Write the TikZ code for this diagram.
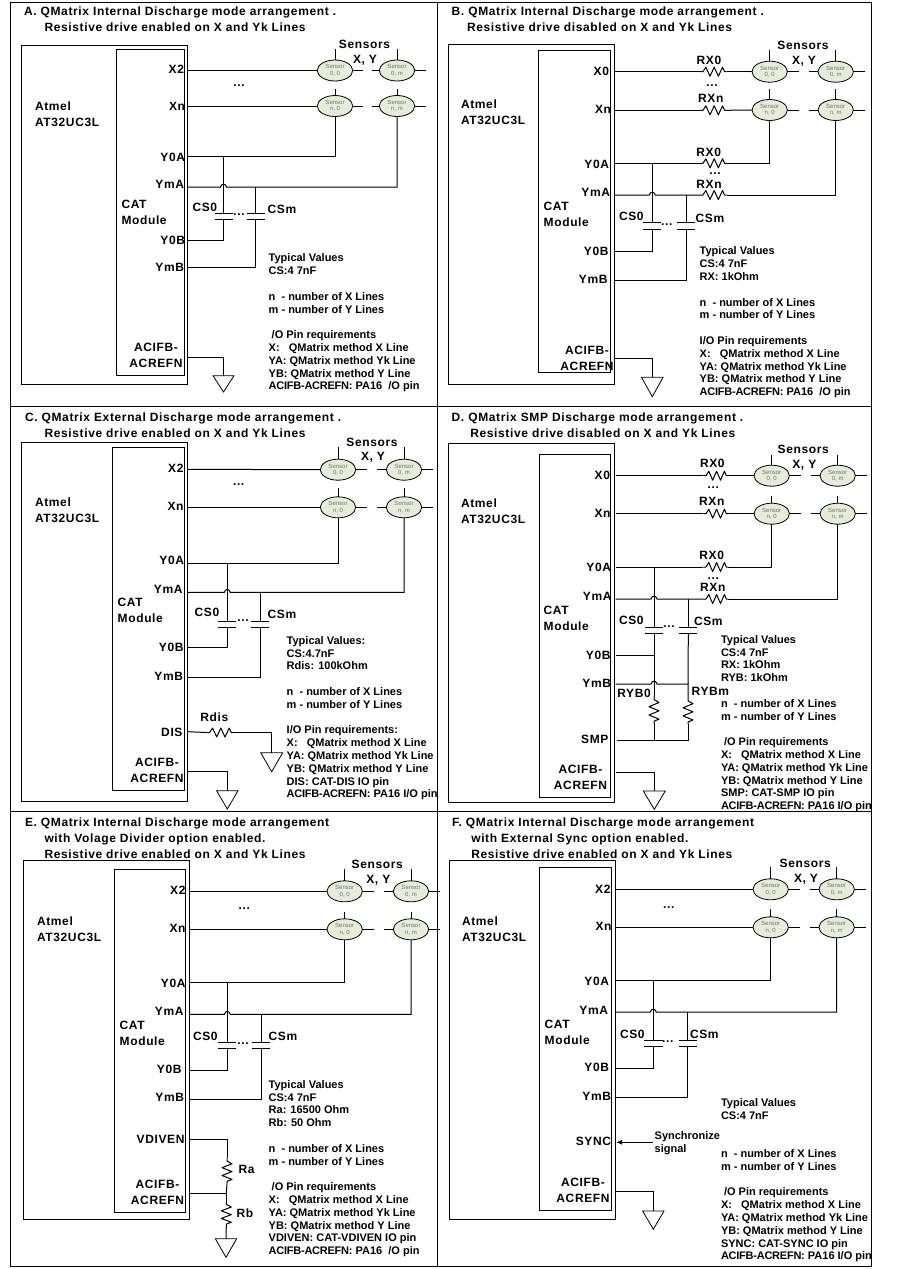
\documentclass[tikz,border=0pt]{standalone}
\usepackage{fontspec}
\setmainfont{Liberation Sans}
\newfontfamily\lblfont[LetterSpace=5.3]{Liberation Sans}
\usetikzlibrary{shapes.geometric,arrows.meta}
\definecolor{sensorfill}{HTML}{E6ECDA}
\newcommand\acr{{\addfontfeature{LetterSpace=-2.2}ACIFB-ACREFN:}}
\tikzset{
  wire/.style={line width=1pt,line join=miter},
  boxshape/.style={draw,line width=1pt,inner sep=0,outer sep=0,rectangle},
  lbl/.style={font=\lblfont\fontsize{12}{16}\selectfont\bfseries,inner sep=0,outer sep=0,align=left},
  lblc/.style={lbl,align=center},
  note/.style={font=\fontsize{11}{12.8}\selectfont\bfseries,inner sep=0,outer sep=0,align=left,anchor=north west},
  ttl/.style={lbl,anchor=north west},
  small/.style={font=\fontsize{11}{13}\selectfont\bfseries,inner sep=0,outer sep=0,align=left},
  sensorshape/.style={draw,ellipse,fill=sensorfill,line width=.8pt,minimum width=35.4pt,minimum height=21pt,inner sep=0,outer sep=0,
     align=center,font=\fontsize{6}{6.5}\selectfont,text=black!55},
}
% rectangle node from two corners
\newcommand\chipbox[5]{%
  \pgfmathsetmacro\bw{#4-#2}\pgfmathsetmacro\bh{#5-#3}%
  \pgfmathsetmacro\bx{(#2+#4)/2}\pgfmathsetmacro\by{(#3+#5)/2}%
  \node[boxshape,minimum width=\bw pt,minimum height=\bh pt] (#1) at (\bx,\by) {};}
% pin: prefix, key, text, label x (right edge), label y, wire x, wire y
\newcommand\pin[7]{%
  \node[lbl,anchor=east] (#1-#2-l) at (#4,#5) {#3};
  \coordinate (#1-#2) at (#6,#7);}
% sensor row: prefix, row, xL, xR, y, ytop, stub1, stub2, stubend
\newcommand\sensorrow[9]{%
  \node[sensorshape] (#1-s-#2-L) at (#3,#5) {Sensor\\#2, 0};
  \node[sensorshape] (#1-s-#2-R) at (#4,#5) {Sensor\\#2, m};
  \coordinate (#1-s-#2-Lt) at (#3,#6);
  \coordinate (#1-s-#2-Rt) at (#4,#6);
  \coordinate (#1-s-#2-st1) at (#7,#5);
  \coordinate (#1-s-#2-st2) at (#8,#5);
  \coordinate (#1-s-#2-st3) at (#9,#5);
  \draw[wire] (#1-s-#2-L.north) -- (#1-s-#2-Lt);
  \draw[wire] (#1-s-#2-R.north) -- (#1-s-#2-Rt);
  \draw[wire] (#1-s-#2-L.east) -- (#1-s-#2-st1);
  \draw[wire] (#1-s-#2-st2) -- (#1-s-#2-R.west);
  \draw[wire] (#1-s-#2-R.east) -- (#1-s-#2-st3);}
% capacitor: name, x, y1, y2, half width
\newcommand\capac[5]{%
  \coordinate (#1-t) at (#2,#3);
  \coordinate (#1-b) at (#2,#4);
  \draw[wire] ({#2-#5},#3) -- ({#2+#5},#3);
  \draw[wire] ({#2-#5},#4) -- ({#2+#5},#4);}
% ground: name, xc, ytop, half width, yapex
\newcommand\gnd[5]{%
  \coordinate (#1) at (#2,#3);
  \draw[wire,line width=.8pt,line join=miter] ({#2-#4},#3) -- ({#2+#4},#3) -- (#2,#5) -- cycle;}
% horizontal resistor: name, x1, x2, y
\newcommand\resh[4]{%
  \coordinate (#1-a) at (#2,#4);
  \coordinate (#1-b) at (#3,#4);
  \pgfmathsetmacro\ru{(#3-#2)/6.4}%
  \draw[wire,line join=round] (#2,#4)
    -- ({#2+0.7*\ru},{#4}) -- ({#2+1.4*\ru},{#4-4.5}) -- ({#2+2.4*\ru},{#4+4.5})
    -- ({#2+3.4*\ru},{#4-4.5}) -- ({#2+4.4*\ru},{#4+4.5}) -- ({#2+5.4*\ru},{#4-4.5})
    -- ({#2+5.9*\ru},{#4}) -- (#3,#4);}
% vertical resistor: name, x, y1, y2
\newcommand\resv[4]{%
  \coordinate (#1-a) at (#2,#3);
  \coordinate (#1-b) at (#2,#4);
  \pgfmathsetmacro\ru{(#4-#3)/6.4}%
  \draw[wire,line join=round] (#2,#3)
    -- (#2,{#3+0.7*\ru}) -- ({#2+5},{#3+1.4*\ru}) -- ({#2-5},{#3+2.4*\ru})
    -- ({#2+5},{#3+3.4*\ru}) -- ({#2-5},{#3+4.4*\ru}) -- ({#2+5},{#3+5.4*\ru})
    -- (#2,{#3+5.9*\ru}) -- (#2,#4);}
% wire hop over a vertical at x, on line y (path fragment)
\newcommand\hop[2]{-- ({#1-3},#2) .. controls ({#1-2},{#2-3.8}) and ({#1+2},{#2-3.8}) .. ({#1+3},#2)}
\newcommand\dotsl[3]{\node[lbl] (#1) at (#2,#3) {...};}
\newcommand\sensorhead[5]{%
  \node[lbl] (#1-sh) at (#2,#3) {Sensors};
  \node[lbl] (#1-xy) at (#4,#5) {X, Y};}
\newcommand\twolab[7]{%
  \node[lbl,anchor=north west] (#1-chip-l) at (#2,#3) {Atmel\\AT32UC3L};
  \node[lbl,anchor=north west] (#1-cat-l) at (#4,#5) {CAT\\Module};}
\begin{document}
\begin{tikzpicture}[x=1pt,y=-1pt]
\useasboundingbox (0,0) rectangle (920,1269);
\fill[white] (0,0) rectangle (920,1269);
% panel frame
\coordinate (f-tl) at (10.5,2);
\coordinate (f-br) at (871.5,1266.5);
\draw[wire] (f-tl) rectangle (f-br);
\draw[wire] (437,2) -- (437,1266.5);
\draw[wire] (10.5,406.5) -- (871.5,406.5);
\draw[wire] (10.5,811) -- (871.5,811);

%% ---------------- A
\node[ttl] (a-t) at (24,6.5) {A. QMatrix Internal Discharge mode arrangement .\\\hspace*{20.5pt}Resistive drive enabled on X and Yk Lines};
\chipbox{a-chip}{21.5}{45.5}{187.5}{384.5}
\chipbox{a-cat}{116.5}{49.5}{184.5}{375}
\twolab{a}{35}{101.5}{121.5}{200.5}{}{}
\pin{a}{X2}{X2}{184}{69}{188}{70.5}
\pin{a}{Xn}{Xn}{185}{106}{188}{106}
\pin{a}{Y0A}{Y0A}{185}{157}{188}{156}
\pin{a}{YmA}{YmA}{184}{184}{188}{187}
\pin{a}{Y0B}{Y0B}{185}{240}{188}{240}
\pin{a}{YmB}{YmB}{184}{267}{188}{267}
\node[lblc] (a-acif-l) at (156,355.5) {ACIFB-\\ACREFN};
\coordinate (a-acif) at (188,357);
\sensorrow{a}{0}{335}{397}{70.5}{49}{362.7}{372}{426}
\sensorrow{a}{n}{335}{397}{106}{89}{362.7}{372}{426}
\sensorhead{a}{364.5}{44.5}{365}{60}
\dotsl{a-d1}{239}{86}
\draw[wire] (a-X2) -- (a-s-0-L.west);
\draw[wire] (a-Xn) -- (a-s-n-L.west);
\draw[wire] (a-Y0A) -| (a-s-n-L.south);
\draw[wire] (a-YmA) \hop{223.5}{187} -| (a-s-n-R.south);
\capac{a-c0}{223.5}{213}{219.5}{9}
\capac{a-cm}{255.5}{213}{219.5}{9}
\draw[wire] (a-c0-t |- a-Y0A) -- (a-c0-t);
\draw[wire] (a-cm-t |- a-YmA) -- (a-cm-t);
\draw[wire] (a-c0-b) |- (a-Y0B);
\draw[wire] (a-cm-b) |- (a-YmB);
\node[lbl,anchor=west] (a-cs0) at (192.5,207) {CS0};
\node[lbl,anchor=west] (a-csm) at (267.7,209) {CSm};
\dotsl{a-d2}{239}{214.5}
\gnd{a-g}{223.5}{375.7}{10.5}{392}
\draw[wire] (a-acif) -| (a-g);
\node[note] (a-n) at (268.7,254) {Typical Values\\CS:4 7nF\\ ~ \\n\ \ - number of X Lines\\m - number of Y Lines\\ ~ \\\hspace*{3pt}/O Pin requirements\\X:\ \ \ QMatrix method X Line\\YA: QMatrix method Yk Line\\YB: QMatrix method Y Line\\\acr{} PA16\ \ /O pin};

%% ---------------- B
\node[ttl] (b-t) at (451.7,6.5) {B. QMatrix Internal Discharge mode arrangement .\\\hspace*{15.3pt}Resistive drive disabled on X and Yk Lines};
\chipbox{b-chip}{448.3}{44}{614.3}{384.3}
\chipbox{b-cat}{538.7}{50.3}{610.3}{372.3}
\twolab{b}{461}{99.5}{543.7}{202.5}{}{}
\pin{b}{X0}{X0}{609}{71}{615}{71.7}
\pin{b}{Xn}{Xn}{611}{109}{615}{110.3}
\pin{b}{Y0A}{Y0A}{609}{164}{615}{163.3}
\pin{b}{YmA}{YmA}{610}{192}{615}{195}
\pin{b}{Y0B}{Y0B}{608.5}{251}{615}{251.7}
\pin{b}{YmB}{YmB}{607.5}{279}{615}{280.3}
\node[lblc] (b-acif-l) at (587,358) {ACIFB-\\ACREFN};
\coordinate (b-acif) at (615,358.3);
\sensorrow{b}{0}{769.7}{835.7}{71.7}{50}{798.7}{809}{865}
\sensorrow{b}{n}{769.7}{835.7}{110}{89.3}{798.7}{809}{865}
\sensorhead{b}{803}{45.5}{804}{61}
\resh{b-r1}{700}{726.7}{71.7}
\resh{b-r2}{700}{726.7}{110.3}
\resh{b-r3}{700}{726.7}{163.3}
\resh{b-r4}{700}{726.7}{195}
\node[lbl] (b-r1-l) at (709,60) {RX0};
\dotsl{b-d1}{712}{86}
\node[lbl] (b-r2-l) at (710.7,98) {RXn};
\node[lbl] (b-r3-l) at (708.7,152) {RX0};
\dotsl{b-d2}{715}{174}
\node[lbl] (b-r4-l) at (709,184) {RXn};
\draw[wire] (b-X0) -- (b-r1-a);
\draw[wire] (b-r1-b) -- (b-s-0-L.west);
\draw[wire] (b-Xn) -- (b-r2-a);
\draw[wire] (b-r2-b) -- (b-s-n-L.west);
\draw[wire] (b-Y0A) -- (b-r3-a);
\draw[wire] (b-r3-b) -| (b-s-n-L.south);
\draw[wire] (b-YmA) \hop{652.3}{195} -- (b-r4-a);
\draw[wire] (b-r4-b) -| (b-s-n-R.south);
\capac{b-c0}{652.3}{222}{229}{9}
\capac{b-cm}{686.3}{222}{229}{9}
\draw[wire] (b-c0-t |- b-Y0A) -- (b-c0-t);
\draw[wire] (b-cm-t |- b-YmA) -- (b-cm-t);
\draw[wire] (b-c0-b) |- (b-Y0B);
\draw[wire] (b-cm-b) |- (b-YmB);
\node[lbl,anchor=west] (b-cs0) at (619,216) {CS0};
\node[lbl,anchor=west] (b-csm) at (695.7,218) {CSm};
\dotsl{b-d3}{666.7}{224.5}
\gnd{b-g}{652.3}{377.3}{10.8}{396.7}
\draw[wire] (b-acif) -| (b-g);
\node[note] (b-n) at (699.7,247) {Typical Values\\CS:4 7nF\\RX: 1kOhm\\ ~ \\n\ \ - number of X Lines\\m - number of Y Lines\\ ~ \\I/O Pin requirements\\X:\ \ \ QMatrix method X Line\\YA: QMatrix method Yk Line\\YB: QMatrix method Y Line\\\acr{} PA16\ \ /O pin};

%% ---------------- C
\node[ttl] (c-t) at (25,412.8) {C. QMatrix External Discharge mode arrangement .\\\hspace*{19.5pt}Resistive drive enabled on X and Yk Lines};
\chipbox{c-chip}{21.5}{442.3}{187.5}{801}
\chipbox{c-cat}{112.7}{447.3}{184.3}{790}
\twolab{c}{35}{497.5}{117.7}{598.5}{}{}
\pin{c}{X2}{X2}{183.5}{468.3}{188}{469.3}
\pin{c}{Xn}{Xn}{183.5}{506}{188}{507.3}
\pin{c}{Y0A}{Y0A}{184}{560}{188}{563.3}
\pin{c}{YmA}{YmA}{182.5}{589}{188}{592.3}
\pin{c}{Y0B}{Y0B}{183.5}{647}{188}{647.3}
\pin{c}{YmB}{YmB}{183}{676.7}{188}{677.3}
\pin{c}{DIS}{DIS}{182.5}{732}{188}{731.7}
\node[lblc] (c-acif-l) at (157,770) {ACIFB-\\ACREFN};
\coordinate (c-acif) at (188,771.3);
\sensorrow{c}{0}{338}{404}{469.7}{447.3}{366.7}{377.3}{433.3}
\sensorrow{c}{n}{338}{404}{507.3}{488.3}{366.7}{377.3}{433.3}
\sensorhead{c}{372}{442.7}{373}{457.7}
\dotsl{c-d1}{238.7}{485}
\draw[wire] (c-X2) -- (c-s-0-L.west);
\draw[wire] (c-Xn) -- (c-s-n-L.west);
\draw[wire] (c-Y0A) -| (c-s-n-L.south);
\draw[wire] (c-YmA) \hop{227.3}{592.3} -| (c-s-n-R.south);
\capac{c-c0}{227.3}{621}{627.3}{9}
\capac{c-cm}{260.3}{621}{627.3}{9}
\draw[wire] (c-c0-t |- c-Y0A) -- (c-c0-t);
\draw[wire] (c-cm-t |- c-YmA) -- (c-cm-t);
\draw[wire] (c-c0-b) |- (c-Y0B);
\draw[wire] (c-cm-b) |- (c-YmB);
\node[lbl,anchor=west] (c-cs0) at (194.7,612) {CS0};
\node[lbl,anchor=west] (c-csm) at (267.7,614) {CSm};
\dotsl{c-d2}{243}{621}
\resh{c-rd}{206.7}{233.3}{732.5}
\node[lbl] (c-rd-l) at (214.3,717.3) {Rdis};
\gnd{c-g2}{271.7}{752.7}{11}{771.7}
\draw[wire] (c-DIS) -- (c-rd-a);
\draw[wire] (c-rd-b) -| (c-g2);
\gnd{c-g}{227.3}{790.7}{10.7}{809}
\draw[wire] (c-acif) -| (c-g);
\node[note] (c-n) at (286.7,636.3) {Typical Values:\\CS:4.7nF\\Rdis: 100kOhm\\ ~ \\n\ \ - number of X Lines\\m - number of Y Lines\\ ~ \\I/O Pin requirements:\\X:\ \ \ QMatrix method X Line\\YA: QMatrix method Yk Line\\YB: QMatrix method Y Line\\DIS: CAT-DIS IO pin\\\acr{} PA16 I/O pin};

%% ---------------- D
\node[ttl] (d-t) at (451.7,412.8) {D. QMatrix SMP Discharge mode arrangement .\\\hspace*{18.6pt}Resistive drive disabled on X and Yk Lines};
\chipbox{d-chip}{448.3}{443.3}{614.3}{802.3}
\chipbox{d-cat}{539.3}{454.3}{610.3}{797}
\twolab{d}{461}{498.8}{543.7}{605.8}{}{}
\pin{d}{X0}{X0}{610}{475.7}{615.7}{475.7}
\pin{d}{Xn}{Xn}{610.5}{513}{615.7}{513.7}
\pin{d}{Y0A}{Y0A}{611}{567}{615.7}{567}
\pin{d}{YmA}{YmA}{611.5}{596.7}{615.7}{599}
\pin{d}{Y0B}{Y0B}{610.5}{655}{615.7}{655.3}
\pin{d}{YmB}{YmB}{611}{683}{615.7}{684}
\pin{d}{SMP}{SMP}{608.5}{739.3}{616.7}{740.3}
\node[lblc] (d-acif-l) at (580.5,777) {ACIFB-\\ACREFN};
\coordinate (d-acif) at (615.7,772);
\sensorrow{d}{0}{771.7}{837.7}{475.7}{455}{801}{810.7}{866.7}
\sensorrow{d}{n}{771.7}{837.7}{513.7}{496}{801}{810.7}{866.7}
\sensorhead{d}{803.3}{449.3}{804.3}{465.7}
\resh{d-r1}{703.3}{728.3}{475.7}
\resh{d-r2}{703.3}{728.3}{513.7}
\resh{d-r3}{703.3}{728.3}{567}
\resh{d-r4}{703.3}{728.3}{599}
\node[lbl] (d-r1-l) at (712.3,463.3) {RX0};
\dotsl{d-d1}{713.3}{488}
\node[lbl] (d-r2-l) at (711.7,501.7) {RXn};
\node[lbl] (d-r3-l) at (711.7,555.3) {RX0};
\dotsl{d-d2}{713.3}{579}
\node[lbl] (d-r4-l) at (712.7,587) {RXn};
\draw[wire] (d-X0) -- (d-r1-a);
\draw[wire] (d-r1-b) -- (d-s-0-L.west);
\draw[wire] (d-Xn) -- (d-r2-a);
\draw[wire] (d-r2-b) -- (d-s-n-L.west);
\draw[wire] (d-Y0A) -- (d-r3-a);
\draw[wire] (d-r3-b) -| (d-s-n-L.south);
\draw[wire] (d-YmA) \hop{654}{599} -- (d-r4-a);
\draw[wire] (d-r4-b) -| (d-s-n-R.south);
\capac{d-c0}{654}{627.3}{633.3}{9}
\capac{d-cm}{688.3}{627.3}{633.3}{9}
\draw[wire] (d-c0-t |- d-Y0A) -- (d-c0-t);
\draw[wire] (d-cm-t |- d-YmA) -- (d-cm-t);
\draw[wire] (d-Y0B) -- (d-c0-b |- d-Y0B);
\draw[wire] (d-YmB) \hop{654}{684} -- (d-cm-b |- d-YmB);
\resv{d-ry0}{654}{696.7}{723.3}
\resv{d-rym}{688}{698}{724}
\draw[wire] (d-c0-b) -- (d-ry0-a);
\draw[wire] (d-cm-b) -- (d-rym-a);
\draw[wire] (d-ry0-b) -- (d-ry0-b |- d-SMP);
\draw[wire] (d-SMP) -| (d-rym-b);
\node[lbl,anchor=west] (d-cs0) at (619,620.3) {CS0};
\node[lbl,anchor=west] (d-csm) at (694,621) {CSm};
\dotsl{d-d3}{669}{626.5}
\node[lbl,anchor=west] (d-ry0-l) at (617.3,693.3) {RYB0};
\node[lbl,anchor=west] (d-rym-l) at (691.7,691.7) {RYBm};
\gnd{d-g}{654.3}{791}{11}{809.3}
\draw[wire] (d-acif) -| (d-g);
\node[note] (d-n) at (721,635.3) {Typical Values\\CS:4 7nF\\RX: 1kOhm\\RYB: 1kOhm\\ ~ \\n\ \ - number of X Lines\\m - number of Y Lines\\ ~ \\\hspace*{3pt}/O Pin requirements\\X:\ \ \ QMatrix method X Line\\YA: QMatrix method Yk Line\\YB: QMatrix method Y Line\\SMP: CAT-SMP IO pin\\\acr{} PA16 I/O pin};

%% ---------------- E
\node[ttl] (e-t) at (25,817.8) {E. QMatrix Internal Discharge mode arrangement\\\hspace*{19.5pt}with Volage Divider option enabled.\\\hspace*{19.5pt}Resistive drive enabled on X and Yk Lines};
\chipbox{e-chip}{23.7}{860.7}{189.3}{1219}
\chipbox{e-cat}{114.7}{869.3}{185.3}{1212.3}
\twolab{e}{37}{916.8}{119.7}{1020.8}{}{}
\pin{e}{X2}{X2}{185.5}{890}{190}{891.3}
\pin{e}{Xn}{Xn}{185.5}{928}{190}{929.3}
\pin{e}{Y0A}{Y0A}{185.5}{983.3}{190}{982.3}
\pin{e}{YmA}{YmA}{183.5}{1011.3}{190}{1014.3}
\pin{e}{Y0B}{Y0B}{181.5}{1069}{190}{1070.3}
\pin{e}{YmB}{YmB}{184}{1097.3}{190}{1099.3}
\pin{e}{VD}{VDIVEN}{184.5}{1139.3}{190}{1139.3}
\node[lblc] (e-acif-l) at (157.5,1192) {ACIFB-\\ACREFN};
\coordinate (e-acif) at (190,1193.3);
\sensorrow{e}{0}{344.7}{411}{891.3}{869}{374}{384}{440}
\sensorrow{e}{n}{344.7}{411}{929.3}{911.7}{374}{384}{440}
\sensorhead{e}{377.3}{864.3}{378.3}{880}
\dotsl{e-d1}{244.3}{909}
\draw[wire] (e-X2) -- (e-s-0-L.west);
\draw[wire] (e-Xn) -- (e-s-n-L.west);
\draw[wire] (e-Y0A) -| (e-s-n-L.south);
\draw[wire] (e-YmA) \hop{227.3}{1014.3} -| (e-s-n-R.south);
\capac{e-c0}{227.3}{1042.3}{1048.7}{9}
\capac{e-cm}{261.3}{1042.3}{1048.7}{9}
\draw[wire] (e-c0-t |- e-Y0A) -- (e-c0-t);
\draw[wire] (e-cm-t |- e-YmA) -- (e-cm-t);
\draw[wire] (e-c0-b) |- (e-Y0B);
\draw[wire] (e-cm-b) |- (e-YmB);
\node[lbl,anchor=west] (e-cs0) at (193,1036.7) {CS0};
\node[lbl,anchor=west] (e-csm) at (268.7,1036.7) {CSm};
\dotsl{e-d2}{243}{1044}
\resv{e-ra}{227}{1158.3}{1183.3}
\resv{e-rb}{226.3}{1201.7}{1226}
\coordinate (e-mid) at (226.3,1193.3);
\draw[wire] (e-VD) -| (e-ra-a);
\draw[wire] (e-ra-b) -- (e-mid);
\draw[wire] (e-acif) -- (e-mid);
\draw[wire] (e-mid) -- (e-rb-a);
\node[lbl,anchor=west] (e-ra-l) at (238.7,1169.3) {Ra};
\node[lbl,anchor=west] (e-rb-l) at (236.7,1213.3) {Rb};
\gnd{e-g}{226}{1238.7}{10.7}{1257.3}
\draw[wire] (e-rb-b) -- (e-g);
\node[note] (e-n) at (268.7,1080.3) {Typical Values\\CS:4 7nF\\Ra: 16500 Ohm\\Rb: 50 Ohm\\ ~ \\n\ \ - number of X Lines\\m - number of Y Lines\\ ~ \\\hspace*{3pt}/O Pin requirements\\X:\ \ \ QMatrix method X Line\\YA: QMatrix method Yk Line\\YB: QMatrix method Y Line\\VDIVEN: CAT-VDIVEN IO pin\\\acr{} PA16\ \ /O pin};

%% ---------------- F
\node[ttl] (f-t) at (452,817.8) {F. QMatrix Internal Discharge mode arrangement\\\hspace*{19.3pt}with External Sync option enabled.\\\hspace*{19.3pt}Resistive drive enabled on X and Yk Lines};
\chipbox{f-chip}{449.3}{860.7}{615.3}{1219.3}
\chipbox{f-cat}{539.3}{867.3}{611.7}{1210.3}
\twolab{f}{462}{916.8}{544.7}{1019.8}{}{}
\pin{f}{X2}{X2}{610.5}{889}{616}{889.3}
\pin{f}{Xn}{Xn}{611.5}{926.7}{616}{927.3}
\pin{f}{Y0A}{Y0A}{609}{981.7}{616}{980.7}
\pin{f}{YmA}{YmA}{608}{1010}{616}{1012}
\pin{f}{Y0B}{Y0B}{609}{1067}{616}{1068.3}
\pin{f}{YmB}{YmB}{611}{1096}{616}{1097.3}
\pin{f}{SYNC}{SYNC}{611}{1141.3}{616}{1142.3}
\node[lblc] (f-acif-l) at (583,1190.5) {ACIFB-\\ACREFN};
\coordinate (f-acif) at (616,1191);
\sensorrow{f}{0}{770.7}{836.7}{889.3}{866.7}{800}{810}{866}
\sensorrow{f}{n}{770.7}{836.7}{927.3}{909.3}{800}{810}{866}
\sensorhead{f}{805.3}{863.3}{806}{879}
\dotsl{f-d1}{668.7}{907.5}
\draw[wire] (f-X2) -- (f-s-0-L.west);
\draw[wire] (f-Xn) -- (f-s-n-L.west);
\draw[wire] (f-Y0A) -| (f-s-n-L.south);
\draw[wire] (f-YmA) \hop{653.3}{1012} -| (f-s-n-R.south);
\capac{f-c0}{653.3}{1040.3}{1046.7}{9.2}
\capac{f-cm}{687.7}{1040.3}{1046.7}{9.2}
\draw[wire] (f-c0-t |- f-Y0A) -- (f-c0-t);
\draw[wire] (f-cm-t |- f-YmA) -- (f-cm-t);
\draw[wire] (f-c0-b) |- (f-Y0B);
\draw[wire] (f-cm-b) |- (f-YmB);
\node[lbl,anchor=west] (f-cs0) at (620,1034.3) {CS0};
\node[lbl,anchor=west] (f-csm) at (690,1034.3) {CSm};
\dotsl{f-d2}{667.7}{1041.5}
\coordinate (f-sigend) at (653.3,1142.3);
\draw[wire,-{Latex[length=6pt,width=5pt]}] (f-sigend) -- (f-SYNC);
\node[small,anchor=north west] (f-sig) at (654.7,1132) {Synchronize\\signal};
\gnd{f-g}{653.3}{1211}{10.7}{1229.3}
\draw[wire] (f-acif) -| (f-g);
\node[note] (f-n) at (721,1098.3) {Typical Values\\CS:4 7nF\\ ~ \\ ~ \\n\ \ - number of X Lines\\m - number of Y Lines\\ ~ \\\hspace*{3pt}/O Pin requirements\\X:\ \ \ QMatrix method X Line\\YA: QMatrix method Yk Line\\YB: QMatrix method Y Line\\SYNC: CAT-SYNC IO pin\\\acr{} PA16 I/O pin};
\end{tikzpicture}
\end{document}
